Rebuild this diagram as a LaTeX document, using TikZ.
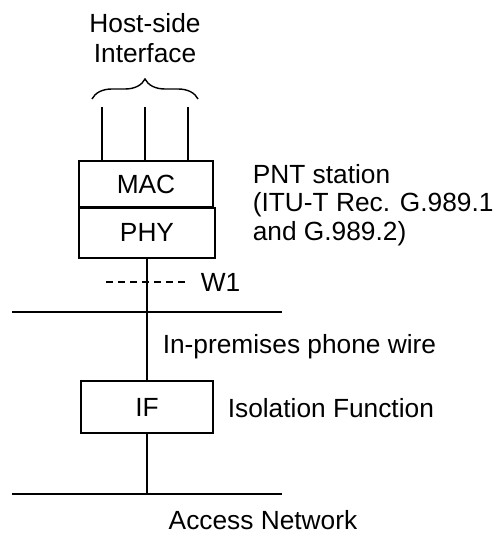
\documentclass[tikz,border=0pt]{standalone}
\usepackage{fontspec}
\setmainfont{Liberation Sans}
\usetikzlibrary{decorations.pathreplacing}
\begin{document}
\begin{tikzpicture}[x=1pt, y=-1pt,
  line width=1.6pt,
  every node/.style={font=\fontsize{26.3}{30}\selectfont},
  blockbox/.style={draw, rectangle, inner sep=0pt, line width=1.6pt},
  lbl/.style={anchor=west, inner sep=0pt, align=left},
  wire/.style={line width=1.6pt},
  cbrace/.style={decorate, decoration={brace, amplitude=20pt, aspect=0.5}, line width=1.4pt}
]
\path[use as bounding box] (0,0) rectangle (492,534);

% station blocks
\node[blockbox, minimum width=134pt, minimum height=46pt] (mac) at (146,184) {MAC};
\node[blockbox, minimum width=136pt, minimum height=50pt, anchor=north] (phy) at (147,207) {PHY};
\node[blockbox, minimum width=132pt, minimum height=52pt] (iff) at (147,407) {IF};

% host-side interface lines
\coordinate (h1) at (102,107);
\coordinate (h2) at (145,107);
\coordinate (h3) at (188,107);
\draw[wire] (h1) -- (h1 |- mac.north);
\draw[wire] (h2) -- (h2 |- mac.north);
\draw[wire] (h3) -- (h3 |- mac.north);

% brace over the interface
\coordinate (bl) at (92,99);
\coordinate (br) at (198,99);
\draw[cbrace] (bl) -- (br);
\node[align=center, inner sep=0pt] (host) at (145,38) {Host-side\\Interface};

% bus lines
\coordinate (top1) at (12,312);
\coordinate (top2) at (282,312);
\coordinate (bot1) at (12,494);
\coordinate (bot2) at (282,494);
\draw[wire] (top1) -- (top2);
\draw[wire] (bot1) -- (bot2);

% vertical wire through the isolation function
\draw[wire] (phy.south) -- (iff.north);
\draw[wire] (iff.south) -- (iff.south |- bot1);

% W1 reference point
\coordinate (w1a) at (106,282);
\coordinate (w1b) at (186,282);
\draw[line width=1.2pt, dash pattern=on 7pt off 5pt] (w1a) -- (w1b);
\node[lbl] (w1) at (200,282) {W1};

% labels
\node[lbl, font=\fontsize{26.3}{28.5}\selectfont] (pnt) at (252,205) {PNT station\\(ITU-T Rec. G.989.1\\and G.989.2)};
\node[lbl] (wire) at (162,347) {In-premises phone wire};
\node[lbl] (iflbl) at (227,408) {Isolation Function};
\node[inner sep=0pt] (acc) at (263,520) {Access Network};
\end{tikzpicture}
\end{document}
